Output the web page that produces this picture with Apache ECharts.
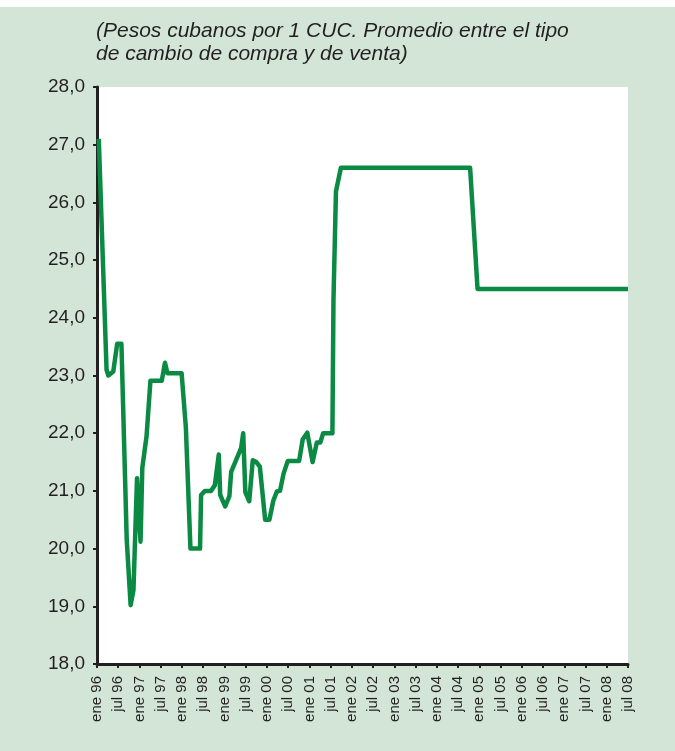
<!DOCTYPE html>
<html>
<head>
<meta charset="utf-8">
<script src="https://cdn.jsdelivr.net/npm/echarts@6/dist/echarts.min.js"></script>
<style>
html,body{margin:0;padding:0;background:#ffffff;}
#wrap{position:absolute;left:0;top:7px;width:675px;height:744px;background:#d2e5d7;}
#chart{position:absolute;left:0;top:-7px;width:675px;height:751px;}
</style>
</head>
<body>
<div id="wrap"><div id="chart"></div></div>
<script>
// Months elapsed since Jan 1996 and exchange rate (CUP per 1 CUC)
const months = [0.5, 2.7, 3.2, 4.6, 5.7, 6.9, 8.4, 9.5, 10.3, 11.3, 12.3, 12.8, 14.0, 15.1, 18.3, 19.2, 19.9, 23.9,
  25.1, 26.4, 29.1, 29.4, 30.5, 32.2, 33.3, 34.4, 34.8, 36.2, 37.4, 37.9, 40.7, 41.3, 41.9, 43.0, 44.0, 45.0, 46.0,
  47.5, 48.7, 49.8, 50.8, 51.7, 52.7, 53.9, 57.1, 58.1, 59.4, 60.9, 62.1, 63.1, 63.9, 66.5, 66.8, 67.5, 68.9,
  105.4, 107.5, 150];
const rates = [27.1, 23.1, 23.0, 23.07, 23.55, 23.55, 20.15, 19.02, 19.28, 21.22, 20.12, 21.4, 21.95, 22.91, 22.91, 23.22, 23.04, 23.04,
  22.1, 20.0, 20.0, 20.93, 21.0, 21.0, 21.1, 21.63, 20.93, 20.73, 20.91, 21.33, 21.74, 22.0, 20.98, 20.82, 21.53, 21.5, 21.42,
  20.5, 20.5, 20.83, 20.99, 21.0, 21.3, 21.52, 21.52, 21.89, 22.01, 21.5, 21.84, 21.84, 22.0, 22.0, 24.31, 26.19, 26.6,
  26.6, 24.5, 24.5];
const tickLabels = ['ene 96','jul 96','ene 97','jul 97','ene 98','jul 98','ene 99','jul 99','ene 00','jul 00',
  'ene 01','jul 01','ene 02','jul 02','ene 03','jul 03','ene 04','jul 04','ene 05','jul 05','ene 06','jul 06',
  'ene 07','jul 07','ene 08','jul 08'];
const titleLines = ['(Pesos cubanos por 1 CUC. Promedio entre el tipo', 'de cambio de compra y de venta)'];

const data = months.map((m, i) => [m, rates[i]]);
const chart = echarts.init(document.getElementById('chart'), null, {renderer: 'canvas'});
chart.setOption({
  animation: false,
  backgroundColor: 'transparent',
  title: {
    text: titleLines.join('\n'),
    left: 96, top: 20, padding: 0,
    textStyle: {fontFamily: 'Liberation Sans, Arial, sans-serif', fontStyle: 'italic', fontWeight: 'normal',
      fontSize: 21, lineHeight: 23, color: '#231f20'}
  },
  grid: {left: 97, top: 87, right: 47, bottom: 87, show: true, backgroundColor: '#ffffff', borderWidth: 0},
  xAxis: {
    type: 'value', min: 0, max: 150, interval: 6,
    axisLine: {show: true, onZero: false, lineStyle: {color: '#231f20', width: 3}},
    axisTick: {show: true, length: 4, lineStyle: {color: '#231f20', width: 2}},
    splitLine: {show: false},
    axisLabel: {
      rotate: 90, margin: 12, fontSize: 15, color: '#231f20', fontFamily: 'Liberation Sans, Arial, sans-serif',
      showMinLabel: true, showMaxLabel: true,
      formatter: v => tickLabels[Math.round(v / 6)] || ''
    }
  },
  yAxis: {
    type: 'value', min: 18, max: 28, interval: 1,
    axisLine: {show: true, lineStyle: {color: '#231f20', width: 3}},
    axisTick: {show: true, length: 4, lineStyle: {color: '#231f20', width: 2}},
    splitLine: {show: false},
    axisLabel: {
      margin: 12, fontSize: 19, color: '#231f20', fontFamily: 'Liberation Sans, Arial, sans-serif',
      formatter: v => v.toFixed(1).replace('.', ',')
    }
  },
  series: [{
    type: 'line', data: data, showSymbol: false, symbol: 'none',
    lineStyle: {color: '#0a8a43', width: 4.5, join: 'round'},
    clip: true
  }]
});
</script>
</body>
</html>
